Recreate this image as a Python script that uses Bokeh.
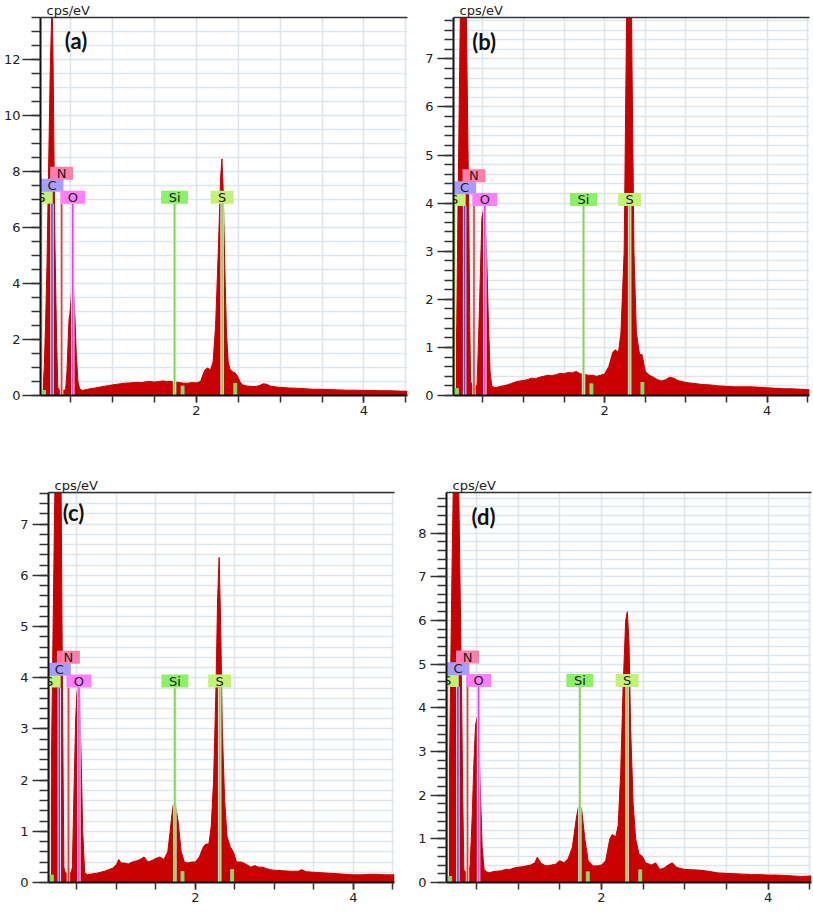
from bokeh.plotting import figure
from bokeh.models import Range1d, FixedTicker, LinearAxis, Label, ColumnDataSource
from bokeh.layouts import column, row
from bokeh.core.properties import value
from bokeh.embed import file_html
from bokeh.resources import INLINE

# ---------------- data ----------------
a_kev = [0.14, 0.16, 0.175, 0.185, 0.20, 0.217, 0.236, 0.256, 0.272, 0.280,
         0.288, 0.295, 0.311, 0.331, 0.346, 0.36, 0.38, 0.40, 0.42, 0.44,
         0.455, 0.468, 0.48, 0.49, 0.50, 0.512, 0.524, 0.535, 0.551, 0.567,
         0.587, 0.606, 0.64, 0.70, 0.75, 0.80, 0.85, 0.90, 0.95, 1.00,
         1.05, 1.10, 1.15, 1.20, 1.25, 1.30, 1.35, 1.40, 1.45, 1.50,
         1.55, 1.60, 1.65, 1.70, 1.75, 1.80, 1.85, 1.90, 1.95, 2.00,
         2.05, 2.08, 2.10, 2.13, 2.17, 2.20, 2.23, 2.26, 2.29, 2.305,
         2.32, 2.34, 2.36, 2.38, 2.40, 2.43, 2.46, 2.49, 2.52, 2.55,
         2.60, 2.65, 2.70, 2.75, 2.80, 2.84, 2.88, 2.92, 2.96, 3.00,
         3.10, 3.20, 3.30, 3.40, 3.50, 3.60, 3.70, 3.80, 3.90, 4.00,
         4.10, 4.20, 4.30, 4.40, 4.52]
a_cps = [0.15, 0.22, 0.50, 1.00, 2.50, 4.60, 8.00, 11.6, 13.4, 13.8,
         12.5, 10.4, 5.70, 2.20, 0.30, 0.20, 0.19, 0.20, 0.18, 0.22,
         0.80, 1.80, 2.70, 2.90, 3.20, 3.80, 4.05, 3.80, 2.80, 1.50,
         0.50, 0.25, 0.18, 0.22, 0.25, 0.27, 0.30, 0.33, 0.35, 0.38,
         0.40, 0.42, 0.44, 0.45, 0.46, 0.47, 0.46, 0.49, 0.50, 0.48,
         0.50, 0.52, 0.50, 0.50, 0.48, 0.46, 0.44, 0.44, 0.46, 0.45,
         0.50, 0.75, 0.90, 0.98, 0.92, 1.20, 2.50, 5.00, 7.80, 8.45,
         7.40, 4.50, 2.20, 1.20, 0.95, 0.85, 0.82, 0.70, 0.50, 0.38,
         0.34, 0.33, 0.32, 0.35, 0.42, 0.40, 0.34, 0.32, 0.30, 0.29,
         0.27, 0.26, 0.24, 0.22, 0.22, 0.21, 0.20, 0.19, 0.19, 0.18,
         0.18, 0.17, 0.17, 0.16, 0.15]

b_kev = [0.14, 0.163, 0.18, 0.196, 0.21, 0.224, 0.24, 0.255, 0.27, 0.285,
         0.298, 0.312, 0.327, 0.34, 0.35, 0.37, 0.39, 0.41, 0.43, 0.449,
         0.47, 0.49, 0.51, 0.53, 0.55, 0.57, 0.59, 0.61, 0.65, 0.70,
         0.75, 0.80, 0.85, 0.90, 0.95, 1.00, 1.05, 1.10, 1.15, 1.20,
         1.25, 1.30, 1.35, 1.40, 1.45, 1.50, 1.55, 1.60, 1.65, 1.70,
         1.75, 1.80, 1.85, 1.90, 1.95, 2.00, 2.05, 2.10, 2.13, 2.17,
         2.20, 2.24, 2.27, 2.30, 2.33, 2.36, 2.39, 2.43, 2.46, 2.50,
         2.55, 2.60, 2.65, 2.70, 2.75, 2.80, 2.85, 2.90, 2.95, 3.00,
         3.10, 3.20, 3.30, 3.40, 3.50, 3.60, 3.70, 3.80, 3.90, 4.00,
         4.10, 4.20, 4.30, 4.40, 4.52]
b_cps = [0.15, 0.20, 1.50, 4.00, 6.00, 7.90, 9.00, 9.80, 10.3, 9.80,
         7.90, 6.00, 4.00, 1.50, 0.30, 0.20, 0.19, 0.18, 0.22, 1.20,
         2.50, 3.70, 3.87, 3.70, 2.80, 1.50, 0.50, 0.20, 0.16, 0.18,
         0.20, 0.22, 0.25, 0.28, 0.30, 0.31, 0.33, 0.36, 0.35, 0.38,
         0.40, 0.42, 0.41, 0.43, 0.46, 0.45, 0.48, 0.47, 0.50, 0.45,
         0.44, 0.42, 0.42, 0.40, 0.42, 0.45, 0.60, 0.90, 0.95, 0.90,
         1.30, 3.00, 7.90, 9.50, 7.90, 3.00, 1.30, 0.85, 0.85, 0.50,
         0.42, 0.38, 0.33, 0.30, 0.33, 0.38, 0.36, 0.31, 0.29, 0.27,
         0.25, 0.23, 0.22, 0.20, 0.19, 0.18, 0.18, 0.18, 0.17, 0.16,
         0.15, 0.14, 0.14, 0.13, 0.12]

c_kev = [0.14, 0.15, 0.17, 0.19, 0.22, 0.24, 0.26, 0.28, 0.30, 0.32,
         0.335, 0.35, 0.37, 0.39, 0.41, 0.43, 0.442, 0.463, 0.484, 0.50,
         0.514, 0.535, 0.552, 0.573, 0.598, 0.63, 0.70, 0.75, 0.80, 0.85,
         0.90, 0.95, 1.00, 1.03, 1.06, 1.10, 1.15, 1.20, 1.25, 1.30,
         1.35, 1.40, 1.45, 1.50, 1.55, 1.60, 1.65, 1.68, 1.70, 1.72,
         1.75, 1.78, 1.82, 1.86, 1.90, 1.95, 2.00, 2.05, 2.10, 2.13,
         2.17, 2.20, 2.23, 2.26, 2.28, 2.30, 2.32, 2.34, 2.37, 2.40,
         2.44, 2.48, 2.52, 2.58, 2.65, 2.70, 2.75, 2.80, 2.85, 2.90,
         2.95, 3.00, 3.10, 3.20, 3.30, 3.35, 3.40, 3.50, 3.60, 3.70,
         3.80, 3.90, 4.00, 4.10, 4.20, 4.30, 4.40, 4.52]
c_cps = [0.15, 0.20, 1.50, 4.00, 7.60, 9.50, 10.5, 9.50, 7.60, 3.00,
         0.30, 0.20, 0.18, 0.20, 0.19, 0.20, 0.30, 1.80, 3.20, 3.70,
         3.85, 3.60, 2.50, 1.00, 0.20, 0.15, 0.17, 0.18, 0.20, 0.22,
         0.25, 0.28, 0.35, 0.45, 0.38, 0.38, 0.36, 0.40, 0.42, 0.45,
         0.50, 0.40, 0.43, 0.47, 0.50, 0.45, 0.60, 1.00, 1.30, 1.52,
         1.50, 1.20, 0.60, 0.40, 0.38, 0.40, 0.40, 0.50, 0.70, 0.75,
         0.75, 1.10, 2.00, 3.80, 5.50, 6.35, 5.00, 3.00, 1.60, 0.90,
         0.70, 0.60, 0.40, 0.40, 0.35, 0.30, 0.33, 0.30, 0.30, 0.27,
         0.25, 0.24, 0.23, 0.22, 0.22, 0.25, 0.21, 0.20, 0.19, 0.18,
         0.17, 0.16, 0.15, 0.15, 0.16, 0.16, 0.15, 0.15]

d_kev = [0.13, 0.14, 0.16, 0.175, 0.188, 0.205, 0.22, 0.24, 0.255, 0.27,
         0.288, 0.305, 0.32, 0.335, 0.348, 0.36, 0.38, 0.40, 0.424, 0.448,
         0.468, 0.488, 0.508, 0.528, 0.548, 0.568, 0.592, 0.62, 0.65, 0.70,
         0.75, 0.80, 0.85, 0.90, 0.95, 1.00, 1.05, 1.10, 1.15, 1.20,
         1.23, 1.27, 1.31, 1.35, 1.40, 1.45, 1.50, 1.55, 1.60, 1.65,
         1.70, 1.73, 1.76, 1.80, 1.84, 1.90, 1.95, 2.00, 2.05, 2.10,
         2.13, 2.17, 2.20, 2.23, 2.26, 2.29, 2.31, 2.33, 2.35, 2.38,
         2.41, 2.45, 2.49, 2.53, 2.60, 2.65, 2.70, 2.75, 2.80, 2.85,
         2.90, 2.95, 3.00, 3.10, 3.20, 3.30, 3.40, 3.50, 3.60, 3.70,
         3.80, 3.90, 4.00, 4.10, 4.20, 4.30, 4.40, 4.52]
d_cps = [0.10, 0.15, 0.60, 2.50, 4.50, 7.00, 8.90, 10.5, 11.0, 10.5,
         8.90, 6.50, 4.50, 2.00, 0.30, 0.25, 0.24, 0.25, 0.40, 1.50,
         2.70, 3.60, 3.78, 3.30, 2.00, 0.80, 0.30, 0.25, 0.22, 0.25,
         0.26, 0.27, 0.30, 0.30, 0.33, 0.35, 0.36, 0.38, 0.40, 0.45,
         0.58, 0.45, 0.40, 0.38, 0.40, 0.42, 0.50, 0.45, 0.55, 0.80,
         1.50, 1.80, 1.70, 1.00, 0.50, 0.38, 0.38, 0.40, 0.50, 1.00,
         1.10, 1.05, 1.30, 2.50, 4.50, 6.00, 6.20, 5.50, 3.50, 1.80,
         1.00, 0.65, 0.60, 0.45, 0.40, 0.45, 0.30, 0.33, 0.40, 0.45,
         0.35, 0.32, 0.30, 0.29, 0.28, 0.25, 0.22, 0.21, 0.20, 0.19,
         0.18, 0.18, 0.17, 0.17, 0.16, 0.15, 0.14, 0.15]

# element markers
elem_labels = ["S", "C", "N", "O", "Si", "S"]
elem_kev = [0.149, 0.277, 0.392, 0.525, 1.740, 2.307]
kb_kev = [0.183, 1.836, 2.464]
a_kb = [0.20, 0.35, 0.45]
b_kb = [0.15, 0.25, 0.28]
c_kb = [0.15, 0.22, 0.26]
d_kb = [0.15, 0.25, 0.30]
levels = {"a": 6.85, "b": 3.94, "c": 3.81, "d": 4.48}

# axes / ticks
y_unit = "cps/eV"
x_start, x_end = 0.14, 4.52
x_labels = [2, 4]
x_minor = [0.5, 1.0, 1.5, 2.0, 2.5, 3.0, 3.5, 4.0, 4.5]
a_ymax, b_ymax, c_ymax, d_ymax = 13.5, 7.86, 7.62, 8.93
a_yticks = [0, 2, 4, 6, 8, 10, 12]
b_yticks = [0, 1, 2, 3, 4, 5, 6, 7]
c_yticks = [0, 1, 2, 3, 4, 5, 6, 7]
d_yticks = [0, 1, 2, 3, 4, 5, 6, 7, 8]
a_yminor = [i * 0.5 for i in range(28)]
b_yminor = [round(i * 0.2, 2) for i in range(40)]
c_yminor = [round(i * 0.2, 2) for i in range(39)]
d_yminor = [round(i * 0.2, 2) for i in range(45)]

# ---------------- styling ----------------
RED = "#c80000"
GRID = "#dde6ed"
box_colors = ["#c4f276", "#a99cff", "#ff7faa", "#ff80ff", "#8cf068", "#c4f276"]
line_colors = ["#8ce050", "#4c4cff", "#ff3030", "#ee40ee", "#77dd44", "#77dd44"]
box_widths = [23, 23, 23, 25, 27, 23]
box_rows = [0, 1, 2, 0, 0, 0]
FONT = "DejaVu Sans"


def make_panel(kev, cps, ymax, yticks, yminor, level, kb_h, tag, tag_x, tag_y,
               W, H, bl, br, bt, bb, tick_out, standoff):
    p = figure(width=W, height=H, x_range=Range1d(x_start, x_end),
               y_range=Range1d(0, ymax), output_backend="svg",
               toolbar_location=None, min_border_left=bl, min_border_right=br,
               min_border_top=bt, min_border_bottom=bb, title=y_unit)
    p.background_fill_color = "white"
    p.border_fill_color = "white"
    p.outline_line_color = None

    p.title.align = "left"
    p.title.offset = 6
    p.title.standoff = 0
    p.title.text_font = FONT
    p.title.text_font_style = "normal"
    p.title.text_font_size = "13px"
    p.title.text_color = "#222222"

    # grids
    p.xgrid.ticker = FixedTicker(ticks=x_minor)
    p.ygrid.ticker = FixedTicker(ticks=yminor)
    for g in (p.xgrid, p.ygrid):
        g.grid_line_color = GRID
        g.grid_line_width = 1.6

    # axes
    xa = p.xaxis[0]
    xa.ticker = FixedTicker(ticks=x_labels, minor_ticks=x_minor)
    ya = p.yaxis[0]
    ya.ticker = FixedTicker(ticks=yticks, minor_ticks=yminor)
    for ax in (xa, ya):
        ax.axis_line_color = "#111111"
        ax.axis_line_width = 2
        ax.major_tick_line_color = "#333333"
        ax.minor_tick_line_color = "#333333"
        ax.major_tick_line_width = 1.5
        ax.minor_tick_line_width = 1.5
        ax.major_tick_in = 0
        ax.minor_tick_in = 0
        ax.major_label_text_font = FONT
        ax.major_label_text_font_size = "13px"
        ax.major_label_text_color = "#222222"
    xa.major_tick_out = 7
    xa.minor_tick_out = 7
    xa.major_label_standoff = 3
    ya.major_tick_out = tick_out
    ya.minor_tick_out = 9
    ya.major_label_standoff = standoff

    top = LinearAxis(ticker=FixedTicker(ticks=[]), axis_line_color="#333333",
                     axis_line_width=1.5, major_tick_out=0, minor_tick_out=0,
                     major_label_text_font_size="0px")
    p.add_layout(top, "above")

    # spectrum
    p.varea(x=kev, y1=[0] * len(kev), y2=cps, fill_color=RED)
    p.line(x=kev, y=cps, line_color=RED, line_width=1)

    # element lines
    p.segment(x0=elem_kev, y0=[0] * 6, x1=elem_kev, y1=[level] * 6,
              line_color="#e6e6e6", line_width=3.5)
    p.segment(x0=elem_kev, y0=[0] * 6, x1=elem_kev, y1=[level] * 6,
              line_color=line_colors, line_width=1.6)
    p.segment(x0=kb_kev, y0=[0] * 3, x1=kb_kev, y1=kb_h,
              line_color="#aaaaaa", line_width=4)
    p.segment(x0=kb_kev, y0=[0] * 3, x1=kb_kev, y1=kb_h,
              line_color="#7ee83c", line_width=2.5)

    # label boxes
    frame_h = H - bt - bb
    ppu = frame_h / ymax
    yc = [level + (6.5 + r * 12) / ppu for r in box_rows]
    src = ColumnDataSource(dict(x=elem_kev, y=yc, t=elem_labels,
                                c=box_colors, w=box_widths))
    p.rect(x="x", y="y", width="w", height=13, width_units="screen",
           height_units="screen", fill_color="c", line_color=None, source=src)
    p.text(x="x", y="y", text="t", text_align="center", text_baseline="middle",
           text_font=value(FONT), text_font_size="13px", text_color="#1a1a1a",
           source=src)

    p.add_layout(Label(x=tag_x, y=tag_y, text=tag, text_baseline="top",
                       text_font="Lato", text_font_style="bold",
                       text_font_size="22px", text_color="#111111"))
    return p


pa = make_panel(a_kev, a_cps, a_ymax, a_yticks, a_yminor, levels["a"], a_kb,
                "(a)", 0.43, 13.15, 410, 458, 39, 3, 16, 63, 18, 2)
pb = make_panel(b_kev, b_cps, b_ymax, b_yticks, b_yminor, levels["b"], b_kb,
                "(b)", 0.37, 7.64, 402, 458, 43, 3, 16, 60, 16, 4)
pc = make_panel(c_kev, c_cps, c_ymax, c_yticks, c_yminor, levels["c"], c_kb,
                "(c)", 0.32, 7.50, 410, 453, 48, 16, 34, 25, 16, 4)
pd = make_panel(d_kev, d_cps, d_ymax, d_yticks, d_yminor, levels["d"], d_kb,
                "(d)", 0.44, 8.70, 402, 453, 36, 1, 25, 29, 16, 4)

layout = column(row(pa, pb), row(pc, pd))
open("out.html", "w").write(file_html(layout, INLINE))
